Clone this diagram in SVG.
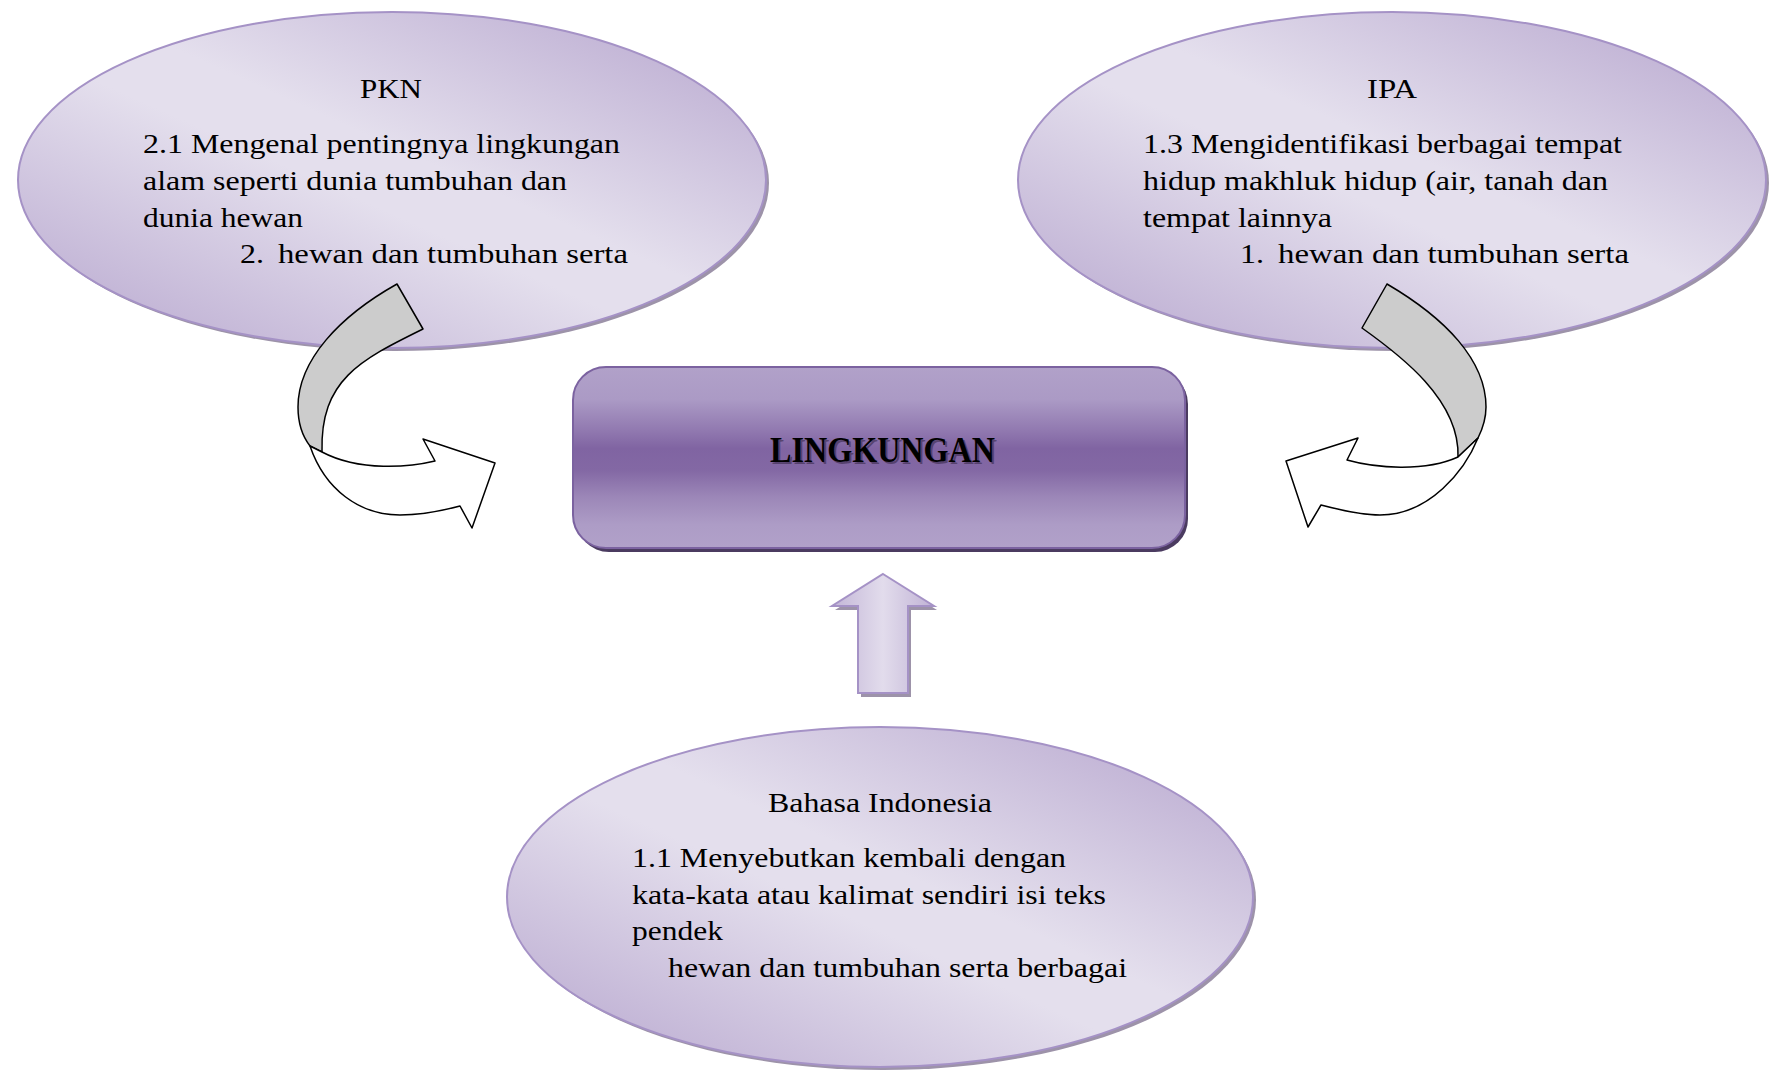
<svg xmlns="http://www.w3.org/2000/svg" width="1775" height="1073" viewBox="0 0 1775 1073">
<defs>
<linearGradient id="ellGrad" x1="1" y1="0" x2="0" y2="1">
<stop offset="0" stop-color="#b5a4cd"/>
<stop offset="0.45" stop-color="#e4dfed"/>
<stop offset="0.55" stop-color="#e4dfed"/>
<stop offset="1" stop-color="#b5a4cd"/>
</linearGradient>
<linearGradient id="boxGrad" x1="0" y1="0" x2="0" y2="1">
<stop offset="0" stop-color="#b1a1c9"/>
<stop offset="0.18" stop-color="#ab9ac5"/>
<stop offset="0.35" stop-color="#9179b0"/>
<stop offset="0.45" stop-color="#8064a2"/>
<stop offset="0.57" stop-color="#8368a4"/>
<stop offset="0.72" stop-color="#9c87b8"/>
<stop offset="0.87" stop-color="#ad9cc6"/>
<stop offset="1" stop-color="#b1a1c9"/>
</linearGradient>
<linearGradient id="arrGrad" x1="0" y1="0" x2="1" y2="0">
<stop offset="0" stop-color="#c3b6d7"/>
<stop offset="0.5" stop-color="#e2dcec"/>
<stop offset="1" stop-color="#c0b2d5"/>
</linearGradient>
</defs>
<style>
.ell-shadow { fill: #9d93a9; }
.ell { fill: url(#ellGrad); stroke: #a592c6; stroke-width: 2; }
.txt { font-family: "Liberation Serif", "Times New Roman", serif; font-size: 28px; fill: #000; }
.band { fill: #cccccc; stroke: #000; stroke-width: 1.5; stroke-linejoin: round; }
.whitepart { fill: #ffffff; stroke: #000; stroke-width: 1.5; stroke-linejoin: round; }
.title { font-family: "Liberation Serif", "Times New Roman", serif; font-weight: bold; font-size: 35px; }
</style>
<rect width="1775" height="1073" fill="#ffffff"/>

<g id="node-pkn">
<ellipse class="ell-shadow" cx="395" cy="183" rx="374" ry="168"/>
<ellipse class="ell" cx="392" cy="180" rx="374" ry="168"/>
<text class="txt" x="360" y="98" textLength="62" lengthAdjust="spacingAndGlyphs">PKN</text>
<text class="txt" x="143" y="153" textLength="477" lengthAdjust="spacingAndGlyphs">2.1 Mengenal pentingnya lingkungan</text>
<text class="txt" x="143" y="190" textLength="424" lengthAdjust="spacingAndGlyphs">alam seperti dunia tumbuhan dan</text>
<text class="txt" x="143" y="227" textLength="160" lengthAdjust="spacingAndGlyphs">dunia hewan</text>
<text class="txt" x="240" y="263" textLength="24" lengthAdjust="spacingAndGlyphs">2.</text>
<text class="txt" x="278" y="263" textLength="350" lengthAdjust="spacingAndGlyphs">hewan dan tumbuhan serta</text>
</g>

<g id="node-ipa">
<ellipse class="ell-shadow" cx="1395" cy="183" rx="374" ry="168"/>
<ellipse class="ell" cx="1392" cy="180" rx="374" ry="168"/>
<text class="txt" x="1367" y="98" textLength="50" lengthAdjust="spacingAndGlyphs">IPA</text>
<text class="txt" x="1143" y="153" textLength="479" lengthAdjust="spacingAndGlyphs">1.3 Mengidentifikasi berbagai tempat</text>
<text class="txt" x="1143" y="190" textLength="465" lengthAdjust="spacingAndGlyphs">hidup makhluk hidup (air, tanah dan</text>
<text class="txt" x="1143" y="227" textLength="189" lengthAdjust="spacingAndGlyphs">tempat lainnya</text>
<text class="txt" x="1240" y="263" textLength="24" lengthAdjust="spacingAndGlyphs">1.</text>
<text class="txt" x="1278" y="263" textLength="351" lengthAdjust="spacingAndGlyphs">hewan dan tumbuhan serta</text>
</g>

<g id="node-bahasa">
<ellipse class="ell-shadow" cx="883" cy="900" rx="373" ry="170"/>
<ellipse class="ell" cx="880" cy="897" rx="373" ry="170"/>
<text class="txt" x="768" y="812" textLength="224" lengthAdjust="spacingAndGlyphs">Bahasa Indonesia</text>
<text class="txt" x="632" y="867" textLength="434" lengthAdjust="spacingAndGlyphs">1.1 Menyebutkan kembali dengan</text>
<text class="txt" x="632" y="904" textLength="474" lengthAdjust="spacingAndGlyphs">kata-kata atau kalimat sendiri isi teks</text>
<text class="txt" x="632" y="940" textLength="91" lengthAdjust="spacingAndGlyphs">pendek</text>
<text class="txt" x="668" y="977" textLength="459" lengthAdjust="spacingAndGlyphs">hewan dan tumbuhan serta berbagai</text>
</g>

<g id="node-lingkungan">
<rect x="576" y="371" width="612" height="181" rx="33" ry="33" fill="#4b3b60"/>
<rect x="573" y="367" width="612" height="181" rx="33" ry="33" fill="url(#boxGrad)" stroke="#7b62a0" stroke-width="2"/>
<text class="title" x="772" y="464" textLength="225" lengthAdjust="spacingAndGlyphs" fill="#3a2a4c" opacity="0.6">LINGKUNGAN</text>
<text class="title" x="770" y="462" textLength="225" lengthAdjust="spacingAndGlyphs" fill="#000000">LINGKUNGAN</text>
</g>

<g id="connectors">
<g id="arrow-pkn">
<path class="band" d="M 397,284 L 423,329 C 360,360 320,380 322,452 L 310,446 C 303,437 298,425 298,407 C 298,360 340,316 397,284 Z"/>
<path class="whitepart" d="M 310,446 C 325,490 360,515 400,515 C 425,515 445,510 460,506 L 472,528 L 495,463 L 423,439 L 435,461 C 410,467 360,472 322,452 Z"/>
</g>
<g id="arrow-ipa">
<path class="band" d="M 1387,284 L 1362,328 C 1400,355 1460,400 1458,457 L 1478,438 C 1483,428 1486,418 1486,407 C 1486,360 1445,318 1387,284 Z"/>
<path class="whitepart" d="M 1478,438 C 1465,470 1430,515 1380,515 C 1360,515 1340,510 1321,505 L 1308,527 L 1286,461 L 1358,438 L 1347,460 C 1375,468 1425,472 1458,457 Z"/>
</g>
<g id="arrow-bahasa">
<polygon points="886,578 937,610 911,610 911,697 861,697 861,610 835,610" fill="#9d93a9"/>
<polygon points="883,574 934,606 908,606 908,693 858,693 858,606 832,606" fill="url(#arrGrad)" stroke="#a592c6" stroke-width="2" stroke-linejoin="miter"/>
</g>
</g>
</svg>
